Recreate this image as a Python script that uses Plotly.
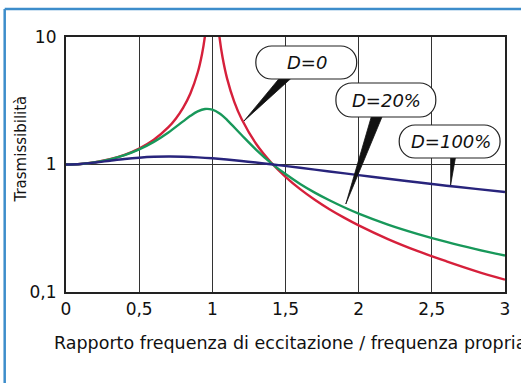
import plotly.graph_objects as go

ratio_d0 = [0, 0.1, 0.2, 0.3, 0.4, 0.5, 0.6, 0.7, 0.75, 0.8, 0.85, 0.9, 0.93, 0.95, 0.97,
            None,
            1.03, 1.05, 1.07, 1.1, 1.15, 1.2, 1.3, 1.4, 1.5, 1.6, 1.7, 1.8, 1.9, 2.0,
            2.2, 2.4, 2.6, 2.8, 3.0]
trans_d0 = [1.000, 1.010, 1.042, 1.099, 1.190, 1.333, 1.563, 1.961, 2.286, 2.778, 3.604, 5.263, 7.40, 10.26, 16.9,
            None,
            16.4, 9.76, 6.90, 4.762, 3.101, 2.273, 1.449, 1.042, 0.800, 0.641, 0.529, 0.446, 0.383, 0.333,
            0.260, 0.210, 0.174, 0.146, 0.125]

ratio_d20 = [0, 0.1, 0.2, 0.3, 0.4, 0.5, 0.6, 0.7, 0.8, 0.85, 0.9, 0.95, 1.0, 1.05, 1.1,
             1.2, 1.3, 1.4, 1.5, 1.6, 1.7, 1.8, 1.9, 2.0, 2.2, 2.4, 2.6, 2.8, 3.0]
trans_d20 = [1.000, 1.010, 1.041, 1.097, 1.184, 1.314, 1.505, 1.785, 2.180, 2.407, 2.611, 2.727, 2.693, 2.509, 2.241,
             1.703, 1.305, 1.031, 0.841, 0.704, 0.602, 0.524, 0.462, 0.412, 0.338, 0.286, 0.247, 0.217, 0.193]

ratio_d100 = [0, 0.1, 0.2, 0.3, 0.4, 0.5, 0.6, 0.7, 0.8, 0.9, 1.0,
              1.2, 1.4, 1.6, 1.8, 2.0, 2.2, 2.4, 2.6, 2.8, 3.0]
trans_d100 = [1.000, 1.010, 1.036, 1.070, 1.104, 1.131, 1.149, 1.155, 1.151, 1.138, 1.118,
              1.066, 1.005, 0.942, 0.881, 0.825, 0.773, 0.725, 0.682, 0.644, 0.608]

x_ticks = [0, 0.5, 1, 1.5, 2, 2.5, 3]
x_tick_labels = ["0", "0,5", "1", "1,5", "2", "2,5", "3"]
y_ticks = [0.1, 1, 10]
y_tick_labels = ["0,1", "1", "10"]

series_labels = ["D=0", "D=20%", "D=100%"]

W, H = 521, 383
ML, MR, MT, MB = 66, 11, 37, 91
PW, PH = W - ML - MR, H - MT - MB
FONT = "DejaVu Sans"


def px(x):
    return (x - ML) / PW


def py(y):
    return (H - MB - y) / PH


def pill_path(x0, y0, x1, y1, r):
    # rounded box built from cubic corners, given in page pixels
    k = 0.5523 * r
    pts = [
        f"M{px(x0 + r)},{py(y0)}",
        f"L{px(x1 - r)},{py(y0)}",
        f"C{px(x1 - r + k)},{py(y0)} {px(x1)},{py(y0 + r - k)} {px(x1)},{py(y0 + r)}",
        f"L{px(x1)},{py(y1 - r)}",
        f"C{px(x1)},{py(y1 - r + k)} {px(x1 - r + k)},{py(y1)} {px(x1 - r)},{py(y1)}",
        f"L{px(x0 + r)},{py(y1)}",
        f"C{px(x0 + r - k)},{py(y1)} {px(x0)},{py(y1 - r + k)} {px(x0)},{py(y1 - r)}",
        f"L{px(x0)},{py(y0 + r)}",
        f"C{px(x0)},{py(y0 + r - k)} {px(x0 + r - k)},{py(y0)} {px(x0 + r)},{py(y0)}",
        "Z",
    ]
    return " ".join(pts)


def wedge_path(bx0, bx1, by, tx, ty):
    return f"M{px(bx0)},{py(by)} L{px(bx1)},{py(by)} L{px(tx)},{py(ty)} Z"


fig = go.Figure()
fig.add_trace(go.Scatter(x=ratio_d0, y=trans_d0, mode="lines", connectgaps=False,
                         line=dict(color="#d6203b", width=2.4, shape="spline"),
                         name=series_labels[0]))
fig.add_trace(go.Scatter(x=ratio_d20, y=trans_d20, mode="lines",
                         line=dict(color="#18985a", width=2.4, shape="spline"),
                         name=series_labels[1]))
fig.add_trace(go.Scatter(x=ratio_d100, y=trans_d100, mode="lines",
                         line=dict(color="#28247c", width=2.4, shape="spline"),
                         name=series_labels[2]))

shapes = []
# outer blue frame (top and left edges)
shapes.append(dict(type="line", xref="paper", yref="paper",
                   x0=px(4), y0=py(9), x1=px(530), y1=py(9),
                   line=dict(color="#3d8dcb", width=2.5)))
shapes.append(dict(type="line", xref="paper", yref="paper",
                   x0=px(4), y0=py(9), x1=px(4), y1=py(400),
                   line=dict(color="#3d8dcb", width=2.5)))

callouts = [
    # box x0, y0, x1, y1, wedge base x0, x1, tip x, y
    (258, 46, 360, 79, 282, 294, 246, 121),
    (339, 83, 440, 117, 375, 386, 349, 204),
    (403, 125, 505, 158, 455, 460, 455, 185),
]
annotations = []
for label, (bx0, by0, bx1, by1, wx0, wx1, tx, ty) in zip(series_labels, callouts):
    shapes.append(dict(type="path", xref="paper", yref="paper",
                       path=wedge_path(wx0, wx1, by1 - 1, tx, ty),
                       fillcolor="#111111", line=dict(color="#111111", width=0.8)))
    shapes.append(dict(type="path", xref="paper", yref="paper",
                       path=pill_path(bx0, by0, bx1, by1, 16),
                       fillcolor="white", line=dict(color="#222222", width=1.2)))
    annotations.append(dict(xref="paper", yref="paper",
                            x=px((bx0 + bx1) / 2 + 1), y=py((by0 + by1) / 2),
                            text=f"<i>{label}</i>", showarrow=False,
                            font=dict(family=FONT, size=18, color="#111111"),
                            xanchor="center", yanchor="middle"))

annotations.append(dict(xref="paper", yref="paper", x=px(20), y=py(149),
                        text="Trasmissibilità", textangle=-90, showarrow=False,
                        font=dict(family=FONT, size=15, color="#111111"),
                        xanchor="center", yanchor="middle"))
annotations.append(dict(xref="paper", yref="paper", x=px(52), y=py(343),
                        text="Rapporto frequenza di eccitazione / frequenza propria",
                        showarrow=False,
                        font=dict(family=FONT, size=17.5, color="#111111"),
                        xanchor="left", yanchor="middle"))

fig.update_layout(
    width=W, height=H,
    margin=dict(l=ML, r=MR, t=MT, b=MB, pad=0),
    paper_bgcolor="white", plot_bgcolor="white",
    showlegend=False,
    shapes=shapes,
    annotations=annotations,
    font=dict(family=FONT, color="#111111"),
)
fig.update_xaxes(range=[0, 3], tickvals=x_ticks, ticktext=x_tick_labels,
                 showgrid=True, gridcolor="#333333", gridwidth=1,
                 showline=True, linecolor="#222222", linewidth=2.2, mirror=True,
                 ticks="", zeroline=False, tickfont=dict(size=17))
fig.update_yaxes(type="log", range=[-1, 1], tickvals=y_ticks, ticktext=y_tick_labels,
                 showgrid=True, gridcolor="#333333", gridwidth=1,
                 showline=True, linecolor="#222222", linewidth=2.2, mirror=True,
                 ticks="", ticklabelstandoff=4, zeroline=False, tickfont=dict(size=17))

fig.write_html("out.html")
